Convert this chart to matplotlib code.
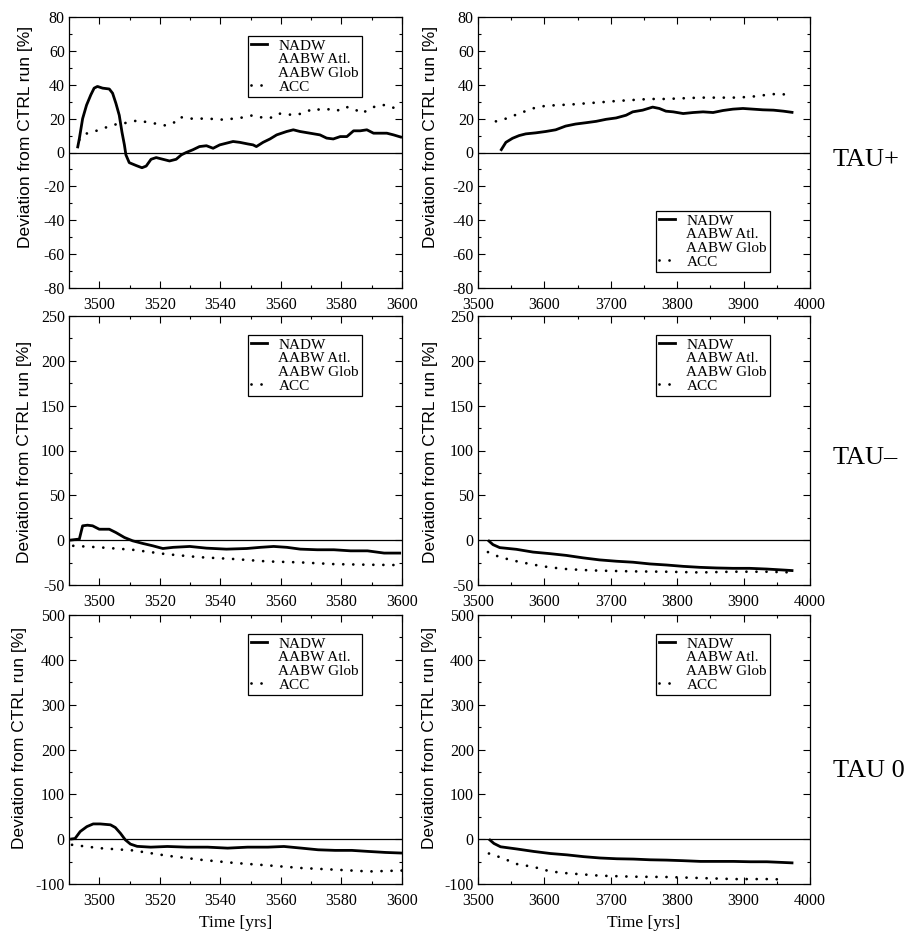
import numpy as np
import matplotlib
matplotlib.use("Agg")
import matplotlib.pyplot as plt
from matplotlib.lines import Line2D
from matplotlib.ticker import MultipleLocator

plt.rcParams["axes.unicode_minus"] = False

SERIF = "Liberation Serif"
SANS = "Liberation Sans"

# ---------------- data: deviation from CTRL run [%] ----------------
# TAU+ , short window
tp_s_nadw_t = [3492.8, 3493.4, 3494.5, 3495.8, 3497.2, 3498.3, 3499.4, 3501.1, 3503.3, 3504.4,
               3505.5, 3506.6, 3507.5, 3508.3, 3508.8, 3509.9, 3512.2, 3514.1, 3515.5, 3517.1,
               3518.8, 3521.0, 3523.2, 3525.4, 3527.1, 3528.7, 3530.9, 3533.1, 3535.4, 3537.6,
               3539.8, 3542.0, 3544.2, 3546.4, 3549.2, 3550.8, 3551.9, 3554.1, 3556.4, 3558.6,
               3561.9, 3564.1, 3566.3, 3569.6, 3572.9, 3575.1, 3577.3, 3579.6, 3581.8, 3584.0,
               3586.2, 3588.4, 3590.6, 3592.8, 3595.0, 3597.2, 3600.0]
tp_s_nadw_v = [2.5, 8, 20, 28, 34, 38, 39, 38, 37.5, 35,
               29, 22, 12, 4.5, -1.4, -6, -7.7, -9, -8, -4,
               -3, -4, -5, -4, -1.4, 0, 1.6, 3.5, 4, 2.5,
               4.5, 5.5, 6.5, 6, 5, 4.5, 3.5, 6, 8, 10.4,
               12.4, 13.4, 12.4, 11.4, 10.4, 8.5, 8, 9.4, 9.4, 12.8,
               12.8, 13.4, 11.4, 11.4, 11.4, 10.4, 8.9]
tp_s_acc_t = [3493.4, 3495.4, 3498.3, 3501.1, 3503.9, 3506.6, 3509.9, 3512.7, 3515.5, 3518.8,
              3521.5, 3524.3, 3526.5, 3529.3, 3532.0, 3535.4, 3538.7, 3541.4, 3544.2, 3547.5,
              3550.8, 3553.6, 3556.4, 3559.1, 3561.9, 3564.6, 3568.0, 3570.7, 3573.5, 3576.2,
              3578.5, 3581.2, 3584.0, 3586.7, 3589.5, 3592.3, 3595.0, 3597.8]
tp_s_acc_v = [7.5, 11, 12.4, 14, 16, 17, 17.7, 19, 18, 17,
              16, 17, 21, 20, 20, 20, 19.7, 19.3, 20, 20.7,
              22, 20.7, 20.3, 23, 22.6, 22, 23.6, 26, 25, 25.6,
              24.6, 27, 26, 23, 26, 28, 28, 26]

# TAU+ , long window
tp_l_nadw_t = [3534, 3542, 3552, 3562, 3572, 3587, 3602, 3617, 3632, 3647, 3663, 3678, 3693,
               3708, 3723, 3733, 3748, 3763, 3773, 3783, 3794, 3809, 3824, 3839, 3854, 3869,
               3884, 3899, 3914, 3929, 3945, 3960, 3975]
tp_l_nadw_v = [1, 6, 8.4, 10, 11, 11.6, 12.4, 13.4, 15.6, 16.8, 17.6, 18.4, 19.6,
               20.4, 22, 24, 25, 26.8, 26, 24.4, 24, 23, 23.6, 24, 23.6, 24.8,
               25.6, 26, 25.6, 25.2, 25, 24.4, 23.6]
tp_l_acc_t = [3527, 3542, 3562, 3582, 3602, 3622, 3642, 3662, 3683, 3708, 3733, 3758, 3783,
              3808, 3834, 3859, 3884, 3909, 3934, 3949, 3975]
tp_l_acc_v = [18.4, 20, 23, 26, 27.6, 28, 28.4, 29, 29.6, 30.4, 31, 31.6, 31.6,
              32, 32.4, 32.4, 32.4, 32.8, 34, 34.6, 34]

# TAU- , short window
tm_s_nadw_t = [3490.3, 3492.8, 3493.4, 3494.5, 3496.1, 3497.8, 3500.0, 3503.3, 3505.5, 3508.3,
               3511.0, 3514.4, 3517.7, 3521.0, 3524.4, 3529.9, 3535.4, 3542.0, 3548.7, 3553.2,
               3557.6, 3562.0, 3566.4, 3572.0, 3577.5, 3583.0, 3588.6, 3594.1, 3599.7]
tm_s_nadw_v = [0, 1, 1, 16, 16.7, 16, 12.2, 12.2, 8.5, 3,
               -0.7, -3.7, -6.3, -9.3, -8, -7, -8.9, -10, -9.3, -8,
               -7, -8, -10, -10.7, -10.7, -11.9, -11.9, -14.4, -14.4]
tm_s_acc_t = [3491.4, 3500.0, 3511.0, 3522.1, 3533.2, 3544.3, 3555.4, 3566.5, 3577.5, 3588.6, 3599.7]
tm_s_acc_v = [-6.3, -8, -10.7, -15.6, -19, -21, -23.7, -24.8, -26.7, -27.4, -27.8]

# TAU- , long window
tm_l_nadw_t = [3515, 3522.6, 3532.7, 3557.8, 3583, 3608, 3633, 3658, 3683, 3708.5, 3733.7,
               3758.8, 3784, 3809, 3834, 3859, 3884, 3909, 3935, 3960, 3975]
tm_l_nadw_v = [0, -5, -8.3, -10.2, -13.3, -15, -17, -19.7, -22, -23.5, -24.6,
               -26.5, -27.7, -29.2, -30.3, -31, -31.4, -31.4, -32.2, -33.3, -34]
tm_l_acc_t = [3515, 3533, 3558, 3583, 3608, 3633, 3658, 3683, 3733, 3784, 3834, 3884, 3935, 3975]
tm_l_acc_v = [-13.3, -19, -23.5, -27.3, -30.3, -32.2, -33.3, -34, -34.8, -35.2, -36, -35.2, -35.2, -36]

# TAU 0 , short window
t0_s_nadw_t = [3490.4, 3492.0, 3493.7, 3495.9, 3498.0, 3500.3, 3503.7, 3505.3, 3507.0, 3508.6,
               3510.3, 3512.5, 3517.0, 3522.5, 3529.0, 3535.8, 3542.4, 3549.0, 3555.7, 3561.0,
               3566.8, 3572.3, 3577.9, 3583.4, 3589.0, 3594.5, 3600.0]
t0_s_nadw_v = [0, 1.5, 17, 28, 34, 34, 32, 26, 13, -1.5,
               -11, -16, -17.8, -16.3, -17.8, -17.8, -20, -17.8, -17.8, -16.3,
               -20, -23.7, -25, -25, -27.4, -29.6, -31]
t0_s_acc_t = [3491.0, 3500.0, 3511.0, 3522.5, 3533.6, 3544.6, 3555.7, 3566.8, 3577.9, 3589.0, 3600.0]
t0_s_acc_v = [-12.6, -20, -25, -37, -46, -53, -58.5, -64.4, -68, -72, -70]

# TAU 0 , long window
t0_l_nadw_t = [3516.5, 3524, 3534, 3559, 3584, 3609, 3634, 3659, 3684, 3709, 3734, 3759,
               3784, 3809, 3835, 3860, 3885, 3910, 3935, 3960, 3975]
t0_l_nadw_v = [0, -9.6, -17, -22, -27.4, -32, -35, -39, -42, -43.7, -44.4, -46,
               -46.7, -48, -49.6, -49.6, -49.6, -50.4, -50.4, -52, -53]
t0_l_acc_t = [3516.5, 3534, 3559, 3584, 3609, 3634, 3684, 3734, 3784, 3835, 3885, 3935, 3965]
t0_l_acc_v = [-32, -40.7, -55.6, -62, -72, -76, -81.5, -83.7, -84.4, -86.7, -89, -89, -90]

legend_labels = ["NADW", "AABW Atl.", "AABW Glob", "ACC"]
row_labels = ["TAU+", "TAU\u2013", "TAU 0"]

# ---------------- axis settings ----------------
xlim_short, xlim_long = (3490, 3600), (3500, 4000)
ylims = [(-80, 80), (-50, 250), (-100, 500)]
ymajor = [20, 50, 100]
yminor = [10, 25, 50]

panels = [
    [(tp_s_nadw_t, tp_s_nadw_v, tp_s_acc_t, tp_s_acc_v),
     (tp_l_nadw_t, tp_l_nadw_v, tp_l_acc_t, tp_l_acc_v)],
    [(tm_s_nadw_t, tm_s_nadw_v, tm_s_acc_t, tm_s_acc_v),
     (tm_l_nadw_t, tm_l_nadw_v, tm_l_acc_t, tm_l_acc_v)],
    [(t0_s_nadw_t, t0_s_nadw_v, t0_s_acc_t, t0_s_acc_v),
     (t0_l_nadw_t, t0_l_nadw_v, t0_l_acc_t, t0_l_acc_v)],
]

W, H = 911, 933
fig = plt.figure(figsize=(W / 100, H / 100), dpi=100)

col_px = [(69, 333), (478, 332)]
row_px = [(17, 271), (316, 269), (615, 269)]

# y-axis label placement (axes fractions) per row / column
ylab_x = [[-0.108, -0.120], [-0.111, -0.120], [-0.126, -0.124]]
ylab_y = [0.557, 0.494, 0.543]

NADW_LW = 2.0
ACC_LW = 2.0
dot_style = (0, (0.01, 3.6))

for r in range(3):
    for c in range(2):
        x0, w = col_px[c]
        y0, h = row_px[r]
        ax = fig.add_axes([x0 / W, 1 - (y0 + h) / H, w / W, h / H])
        nt, nv, at, av = panels[r][c]
        ax.axhline(0, color="black", lw=0.9, zorder=1)
        ax.plot(nt, nv, color="black", lw=NADW_LW, solid_capstyle="butt", zorder=3)
        ax.plot(at, av, color="black", lw=ACC_LW, linestyle=dot_style,
                dash_capstyle="round", zorder=3)
        ax.set_xlim(*(xlim_short if c == 0 else xlim_long))
        ax.set_ylim(*ylims[r])
        ax.xaxis.set_major_locator(MultipleLocator(20 if c == 0 else 100))
        ax.xaxis.set_minor_locator(MultipleLocator(10 if c == 0 else 50))
        ax.yaxis.set_major_locator(MultipleLocator(ymajor[r]))
        ax.yaxis.set_minor_locator(MultipleLocator(yminor[r]))
        ax.tick_params(which="both", direction="in", top=True, right=True, width=0.8)
        ax.tick_params(which="major", length=5, labelsize=11.5)
        ax.tick_params(which="minor", length=2.5)
        ax.tick_params(axis="x", which="major", pad=6.5)
        ax.tick_params(axis="y", which="major", pad=3)
        for lab in ax.get_xticklabels() + ax.get_yticklabels():
            lab.set_fontfamily(SERIF)
        for sp in ax.spines.values():
            sp.set_linewidth(0.9)
        ax.set_ylabel("Deviation from CTRL run [%]", fontfamily=SANS, fontsize=12.5)
        ax.yaxis.set_label_coords(ylab_x[r][c], ylab_y[r])
        if r == 2:
            ax.set_xlabel("Time [yrs]", fontfamily=SERIF, fontsize=12.5, labelpad=4)

        handles = [
            Line2D([], [], color="black", lw=NADW_LW),
            Line2D([], [], color="none", lw=NADW_LW),
            Line2D([], [], color="none", lw=NADW_LW),
            Line2D([], [], color="black", lw=ACC_LW, linestyle=dot_style,
                   dash_capstyle="round"),
        ]
        if r == 0 and c == 1:
            loc, anchor = "lower right", (0.88, 0.06)
        else:
            loc, anchor = "upper right", (0.88, 0.93)
        leg = ax.legend(handles, legend_labels, loc=loc, bbox_to_anchor=anchor,
                        borderaxespad=0, frameon=True, fancybox=False,
                        edgecolor="black", framealpha=1, labelspacing=0.0,
                        handlelength=1.05, handletextpad=0.75, borderpad=0.2,
                        prop={"family": SERIF, "size": 11})
        leg.get_frame().set_linewidth(0.9)

    fig.text(833 / W, 1 - (row_px[r][0] + [143, 142, 156][r]) / H, row_labels[r],
             fontfamily=SERIF, fontsize=19, ha="left", va="center")

fig.savefig("out.png", dpi=100)
